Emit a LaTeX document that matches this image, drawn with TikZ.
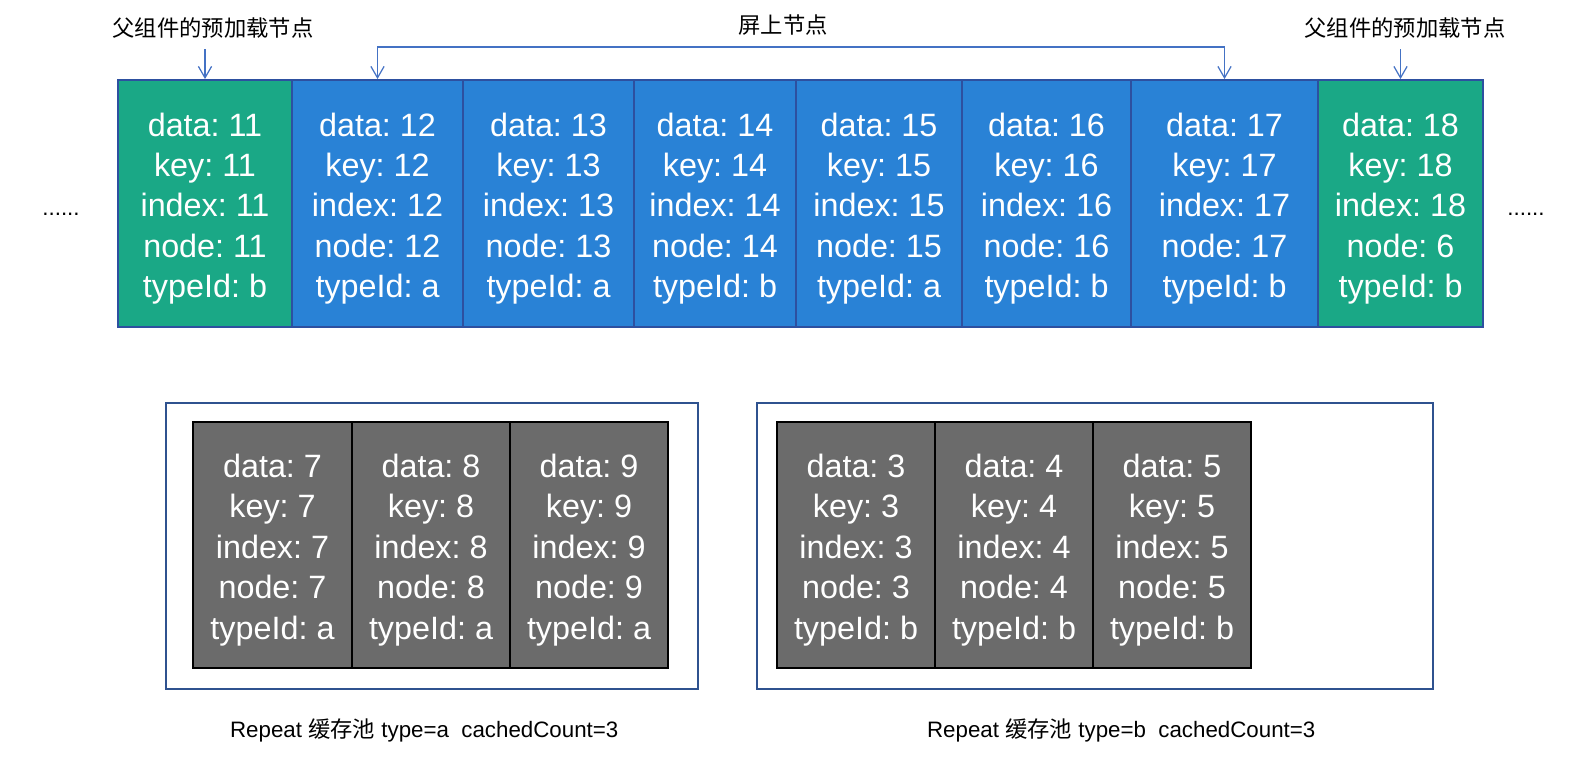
\documentclass[tikz,border=0pt]{standalone}
\usepackage{fontspec}
\setmainfont{Liberation Sans}
\newfontfamily\cjk{Noto Sans CJK SC}
\usepackage{xcolor}
\usepackage{tikz}
\usetikzlibrary{arrows.meta}
\definecolor{preGreen}{RGB}{26,168,134}
\definecolor{scrBlue}{RGB}{41,130,214}
\definecolor{cellLine}{RGB}{45,80,160}
\definecolor{arrBlue}{RGB}{68,114,196}
\definecolor{poolGray}{RGB}{107,107,107}
\definecolor{poolLine}{RGB}{47,82,143}
\frenchspacing
\newcommand\lift{\rule{0pt}{19pt}}

\begin{document}
\begin{tikzpicture}[x=0.02cm,y=-0.02cm,
  cell/.style={draw=cellLine,line width=1.1pt,text=white,align=center,inner sep=0pt,
    minimum height=4.94cm,font=\fontsize{18.4}{23}\selectfont},
  pool/.style={cell,draw=black,fill=poolGray,minimum height=4.92cm},
  arr/.style={arrBlue,line width=0.7pt,-{Straight Barb[length=6.5pt,width=7.5pt]}},
  lbl/.style={inner sep=1pt,font=\fontsize{12.7}{15}\selectfont}]
  \useasboundingbox (0,0) rectangle (1595,766);
  % list on screen plus the preloaded neighbours
  \foreach \k/\l/\r/\nd/\t/\f in {11/118/292/11/b/preGreen,12/292/463/12/a/scrBlue,
      13/463/634/13/a/scrBlue,14/634/796/14/b/scrBlue,15/796/962/15/a/scrBlue,
      16/962/1131/16/b/scrBlue,17/1131/1318/17/b/scrBlue,18/1318/1483/6/b/preGreen} {
    \node[cell,fill=\f,minimum width={(\r-\l)*0.02cm}] (c\k) at ({(\l+\r)/2},203.5)
      {\lift data: \k\\key: \k\\index: \k\\node: \nd\\typeId: \t};
  }
  \node[lbl] (dotsL) at (61,214) {......};
  \node[lbl] (dotsR) at (1526,214) {......};
  % labels above
  \node[lbl] (preL) at (213,28) {\cjk 父组件的预加载节点};
  \node[lbl] (preR) at (1405,28) {\cjk 父组件的预加载节点};
  \node[lbl] (scr) at (783,25) {\cjk 屏上节点};
  \draw[arr] (c11.north) ++(0,-30) -- (c11.north);
  \draw[arr] (c18.north) ++(0,-30) -- (c18.north);
  \coordinate (brk) at (783,47);
  \draw[arr] (brk) -| (c12.north);
  \draw[arr] (brk) -| (c17.north);
  % cache pools
  \draw[poolLine,line width=0.85pt] (166,403) rectangle (698,689);
  \draw[poolLine,line width=0.85pt] (757,403) rectangle (1433,689);
  \foreach \k/\l/\r/\t in {7/193/352/a,8/352/510/a,9/510/668/a,
      3/777/935/b,4/935/1093/b,5/1093/1251/b} {
    \node[pool,minimum width={(\r-\l)*0.02cm}] (g\k) at ({(\l+\r)/2},545)
      {\lift data: \k\\key: \k\\index: \k\\node: \k\\typeId: \t};
  }
  \node[lbl,anchor=west] (capA) at (228,730) {Repeat {\cjk 缓存池} type=a~ cachedCount=3};
  \node[lbl,anchor=west] (capB) at (925,730) {Repeat {\cjk 缓存池} type=b~ cachedCount=3};
\end{tikzpicture}
\end{document}
